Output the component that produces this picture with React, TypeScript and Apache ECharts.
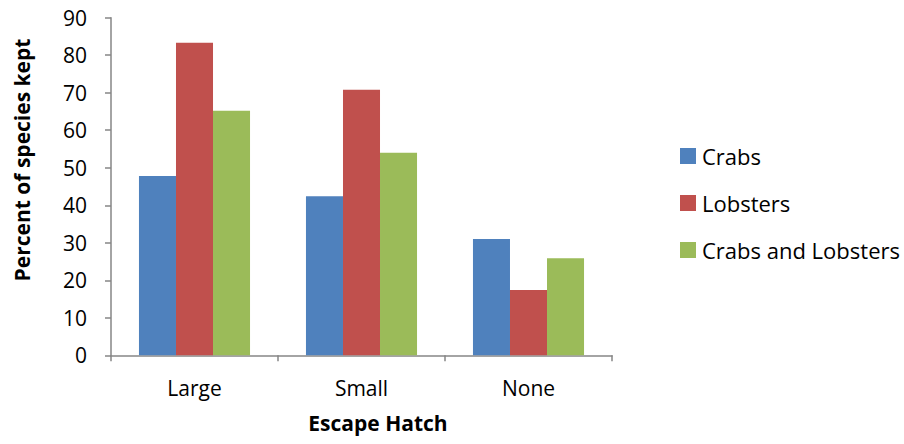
import React, { useEffect, useRef } from "react";
import * as echarts from "echarts";

const categories = ["Large", "Small", "None"];
const seriesNames = ["Crabs", "Lobsters", "Crabs and Lobsters"];
const crabs = [47.8, 42.4, 31.0];
const lobsters = [83.3, 70.8, 17.4];
const crabsAndLobsters = [65.2, 54.0, 25.9];
const colors = ["#4F81BD", "#C0504D", "#9BBB59"];
const FONT = "Open Sans";

export default function App() {
  const ref = useRef<HTMLDivElement>(null);
  useEffect(() => {
    if (!ref.current) return;
    const chart = echarts.init(ref.current, undefined, { renderer: "svg" });
    const values = [crabs, lobsters, crabsAndLobsters];
    chart.setOption({
      animation: false,
      grid: { left: 111, top: 17.7, right: 292, bottom: 88.7, containLabel: false },
      legend: {
        orient: "vertical",
        left: 675,
        top: 140,
        itemWidth: 16,
        itemHeight: 16,
        itemGap: 25,
        icon: "rect",
        textStyle: { fontFamily: FONT, fontSize: 22, lineHeight: 22, color: "#000", padding: [0, 0, 0, 1] },
        data: seriesNames,
      },
      xAxis: {
        type: "category",
        data: categories,
        axisLine: { lineStyle: { color: "#868686", width: 1.5 } },
        axisTick: { show: true, length: 6, lineStyle: { color: "#868686", width: 1.5 } },
        axisLabel: { fontFamily: FONT, fontSize: 21, color: "#000", margin: 22 },
      },
      yAxis: {
        type: "value",
        min: 0,
        max: 90,
        interval: 10,
        splitLine: { show: false },
        axisLine: { show: true, lineStyle: { color: "#868686", width: 1.5 } },
        axisTick: { show: true, length: 6, lineStyle: { color: "#868686", width: 1.5 } },
        axisLabel: { fontFamily: FONT, fontSize: 21, color: "#000", margin: 24 },
      },
      graphic: [
        {
          type: "text",
          x: 378,
          y: 412,
          style: {
            text: "Escape Hatch",
            font: `bold 21px '${FONT}'`,
            fill: "#000",
            align: "center",
            verticalAlign: "top",
          },
        },
        {
          type: "text",
          x: 11,
          y: 160,
          rotation: Math.PI / 2,
          style: {
            text: "Percent of species kept",
            font: `bold 21px '${FONT}'`,
            fill: "#000",
            align: "center",
            verticalAlign: "top",
          },
        },
      ],
      series: seriesNames.map((name, i) => ({
        name,
        type: "bar",
        data: values[i],
        barGap: "0%",
        barCategoryGap: "33.5%",
        itemStyle: { color: colors[i] },
      })),
    });
    return () => chart.dispose();
  }, []);
  return <div ref={ref} style={{ width: 904, height: 444, position: "absolute", left: 0, top: 0 }} />;
}
